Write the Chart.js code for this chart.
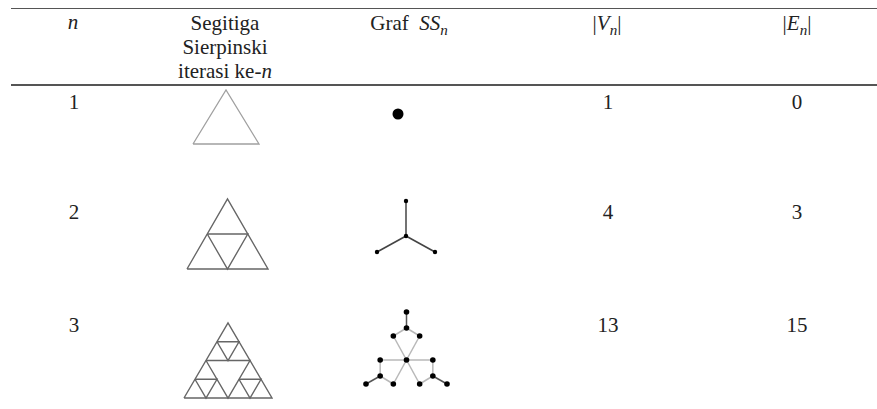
<!DOCTYPE html>
<html>
<head>
<meta charset="utf-8">
<script src="https://cdn.jsdelivr.net/npm/chart.js@4.4.1/dist/chart.umd.min.js"></script>
<style>
  html, body { margin: 0; padding: 0; background: #fff; }
  body { width: 877px; height: 409px; position: relative; overflow: hidden;
         font-family: 'Liberation Serif', Tinos, 'DejaVu Serif', serif; font-size: 21px; color: #222; }
  .rule { position: absolute; left: 11px; right: 0; height: 1.6px; background: #555; }
  .t { position: absolute; transform: translateX(-50%); line-height: 24px; white-space: nowrap; text-align: center;
       font-family: 'Liberation Serif', Tinos, 'DejaVu Serif', serif; }
  sub { font-size: 0.72em; vertical-align: -0.3em; line-height: 0; font-style: italic; }
  canvas { position: absolute; }
</style>
</head>
<body>
<div class="rule" style="top:7.5px"></div>
<div class="rule" style="top:84px"></div>

<!-- header -->
<div class="t" style="left:73px;top:10px"><i>n</i></div>
<div class="t" style="left:225px;top:11px">Segitiga<br>Sierpinski<br>iterasi ke-<i>n</i></div>
<div class="t" style="left:409px;top:11px">Graf&nbsp; <i>SS</i><sub>n</sub></div>
<div class="t" style="left:607px;top:11px">|<i>V</i><sub>n</sub>|</div>
<div class="t" style="left:797px;top:11px">|<i>E</i><sub>n</sub>|</div>

<script>
// ---- table values ----
const iterations = [1, 2, 3];
const vertexCounts = [1, 4, 13];
const edgeCounts = [0, 3, 15];

// ---- Sierpinski triangles (lattice coords, each entry = one triangle) ----
const tri1 = [[[0, 0], [2, 0], [1, 1]]];
const tri2 = [[[0, 0], [4, 0], [2, 2]], [[1, 1], [3, 1], [2, 0]]];
const tri3 = [
    [[0, 0], [8, 0], [4, 4]],
    [[2, 2], [6, 2], [4, 0]],
    [[1, 1], [3, 1], [2, 0]],
    [[5, 1], [7, 1], [6, 0]],
    [[3, 3], [5, 3], [4, 2]]
];

// ---- graphs SS_n (node positions, edges as node pairs) ----
const ss1Nodes = [[0, 0]];
const ss1Edges = [];
const ss2Nodes = [[0, 0], [0, 35], [-29, -16], [29, -16]];
const ss2Edges = [[0, 1], [0, 2], [0, 3]];
const ss3Nodes = [
    [0, 48], [0, 32], [-13, 24], [13, 24],      // top branch
    [0, 0], [-26, 0], [26, 0],                  // centre row
    [-26, -16], [26, -16],
    [-40, -24], [-13, -24], [13, -24], [40, -24]
];
const ss3Edges = [
    [0, 1], [1, 2], [1, 3], [2, 4], [3, 4],
    [4, 5], [4, 6],
    [5, 7], [7, 9], [7, 10], [10, 4],
    [6, 8], [8, 12], [8, 11], [11, 4]
];
const ss3Pendant = [[0, 1], [7, 9], [8, 12]];

// row text
const rowTops = [90, 200, 313];
iterations.forEach((n, i) => {
    [[74, n], [608, vertexCounts[i]], [797, edgeCounts[i]]].forEach(([x, v]) => {
        const d = document.createElement('div');
        d.className = 't';
        d.style.left = x + 'px';
        d.style.top = rowTops[i] + 'px';
        d.textContent = v;
        document.body.appendChild(d);
    });
});

const pts = arr => arr.map(p => ({ x: p[0], y: p[1] }));

function polyDatasets(polys, color, width) {
    return polys.map(p => ({
        data: pts(p.concat([p[0]])),
        showLine: true, pointRadius: 0, borderColor: color, borderWidth: width,
        borderJoinStyle: 'miter', clip: false, order: 1
    }));
}

function graphDatasets(nodes, edges, radius, edgeColor, pendantColor, pendant) {
    const isPendant = e => pendant.some(p => p[0] === e[0] && p[1] === e[1]);
    const ds = edges.map(e => ({
        data: pts([nodes[e[0]], nodes[e[1]]]),
        showLine: true, pointRadius: 0, borderWidth: 1.5, clip: false, order: 1,
        borderColor: isPendant(e) ? pendantColor : edgeColor
    }));
    ds.push({
        data: pts(nodes), showLine: false, pointRadius: radius, pointBorderWidth: 0,
        pointBackgroundColor: '#000', clip: false, order: 0
    });
    return ds;
}

function addFigure(left, top, w, h, xr, yr, datasets) {
    const P = 8;
    const c = document.createElement('canvas');
    c.style.left = (left - P) + 'px';
    c.style.top = (top - P) + 'px';
    c.width = w + 2 * P;
    c.height = h + 2 * P;
    document.body.appendChild(c);
    new Chart(c, {
        type: 'scatter',
        data: { datasets },
        options: {
            responsive: false, animation: false, events: [],
            layout: { padding: P },
            plugins: { legend: { display: false }, tooltip: { enabled: false } },
            scales: {
                x: { type: 'linear', min: xr[0], max: xr[1], display: false },
                y: { type: 'linear', min: yr[0], max: yr[1], display: false }
            }
        }
    });
}

// Sierpinski column
addFigure(193, 90, 66, 54, [0, 2], [0, 1], polyDatasets(tri1, '#a0a0a0', 1.3));
addFigure(187, 199, 81, 70, [0, 4], [0, 2], polyDatasets(tri2, '#666', 1.4));
addFigure(184, 323, 88, 75, [0, 8], [0, 4], polyDatasets(tri3, '#666', 1.4));

// graph column
addFigure(393, 108, 10, 12, [-1, 1], [-1, 1], graphDatasets(ss1Nodes, ss1Edges, 5.5, '#444', '#444', []));
addFigure(377, 201, 58, 51, [-29, 29], [-16, 35], graphDatasets(ss2Nodes, ss2Edges, 2.2, '#444', '#444', []));
addFigure(366, 312, 81, 72, [-40, 40], [-24, 48], graphDatasets(ss3Nodes, ss3Edges, 2.8, '#b8b8b8', '#555', ss3Pendant));
</script>
</body>
</html>
